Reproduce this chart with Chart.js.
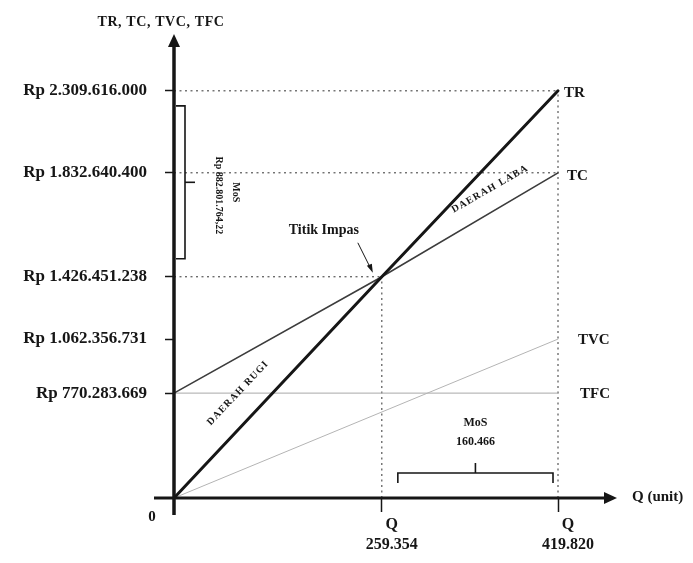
<!DOCTYPE html>
<html>
<head>
<meta charset="utf-8">
<script src="https://cdn.jsdelivr.net/npm/chart.js@4.4.1/dist/chart.umd.min.js"></script>
<style>
  html, body { margin: 0; padding: 0; background: #fff; }
</style>
</head>
<body>
<canvas id="bep" width="693" height="563"></canvas>
<script>
const qBreakEven = 259354;
const qMax = 419820;
const qPoints = [0, 259354, 419820];
const qEnds = [0, 419820];
const trValues = [0, 1426451238, 2309616000];
const tcValues = [770283669, 1426451238, 1832640400];
const tvcValues = [0, 1062356731];
const tfcValues = [770283669, 770283669];
const yTicks = [770283669, 1062356731, 1426451238, 1832640400, 2309616000];
const yLabels = ['Rp 770.283.669', 'Rp 1.062.356.731', 'Rp 1.426.451.238', 'Rp 1.832.640.400', 'Rp 2.309.616.000'];
const xTicks = [259354, 419820];
const xLabels = [['Q', '259.354'], ['Q', '419.820']];
const mosUnits = '160.466';
const mosRupiah = 'Rp 882.801.764,22';

const SERIF = "'Liberation Serif', 'Times New Roman', serif";
const INK = '#161616';

// the sketch is not drawn to scale, so each axis maps value -> position piecewise
const axisKnots = {
  x: [[0, 0], [259354, 0.466], [419820, 0.861], [480000, 1]],
  y: [[0, 0], [770283669, 0.229], [1062356731, 0.347], [1426451238, 0.483],
      [1832640400, 0.71], [2309616000, 0.889], [2600000000, 1]],
};

function interp(knots, v, from, to) {
  for (let i = 1; i < knots.length; i++) {
    const a = knots[i - 1], b = knots[i];
    if (v <= b[from] || i === knots.length - 1) {
      return a[to] + (v - a[from]) / (b[from] - a[from]) * (b[to] - a[to]);
    }
  }
  return 0;
}

class SketchScale extends Chart.LinearScale {
  getPixelForValue(value) {
    return this.getPixelForDecimal(interp(axisKnots[this.axis], value, 0, 1));
  }
  getValueForPixel(pixel) {
    return interp(axisKnots[this.axis], this.getDecimalForPixel(pixel), 1, 0);
  }
}
SketchScale.id = 'sketch';
SketchScale.defaults = {};
Chart.register(SketchScale);

const pts = (xs, ys) => xs.map((x, i) => ({ x, y: ys[i] }));
const trMax = trValues[trValues.length - 1];
const tcMax = tcValues[tcValues.length - 1];
const beValue = trValues[1];

function curve(data, color, width) {
  return { data, borderColor: color, borderWidth: width, pointRadius: 0, clip: false, borderCapStyle: 'round' };
}
function guide(data) {
  return { data, borderColor: '#333', borderWidth: 1, borderDash: [2, 3.5], pointRadius: 0, clip: false };
}

function text(ctx, str, x, y, size, align = 'center', rot = 0, spacing = 0) {
  ctx.save();
  ctx.translate(x, y);
  ctx.rotate(rot);
  ctx.font = `bold ${size}px ${SERIF}`;
  ctx.letterSpacing = spacing + 'px';
  ctx.textAlign = align;
  ctx.textBaseline = 'middle';
  ctx.fillText(str, 0, 0);
  ctx.restore();
}

function seg(ctx, x1, y1, x2, y2) {
  ctx.beginPath();
  ctx.moveTo(x1, y1);
  ctx.lineTo(x2, y2);
  ctx.stroke();
}

const sketchPlugin = {
  id: 'sketchNotes',
  afterDraw(chart) {
    const { ctx, chartArea, scales: { x, y } } = chart;
    const px = v => x.getPixelForValue(v);
    const py = v => y.getPixelForValue(v);
    const x0 = px(0), y0 = py(0);
    ctx.save();
    ctx.strokeStyle = INK;
    ctx.fillStyle = INK;

    // axes with arrows
    ctx.lineWidth = 3.5;
    seg(ctx, x0, y0 + 17, x0, chartArea.top + 6);
    ctx.beginPath();
    ctx.moveTo(x0, chartArea.top - 6);
    ctx.lineTo(x0 - 6, chartArea.top + 7);
    ctx.lineTo(x0 + 6, chartArea.top + 7);
    ctx.closePath();
    ctx.fill();
    ctx.lineWidth = 3;
    seg(ctx, x0 - 20, y0, chartArea.right - 14, y0);
    ctx.beginPath();
    ctx.moveTo(chartArea.right - 3, y0);
    ctx.lineTo(chartArea.right - 16, y0 - 6);
    ctx.lineTo(chartArea.right - 16, y0 + 6);
    ctx.closePath();
    ctx.fill();

    text(ctx, 'TR, TC, TVC, TFC', x0 - 13, 22, 14, 'center', 0, 0.6);
    text(ctx, 'Q (unit)', chartArea.right + 12, y0 - 1, 15, 'left');
    text(ctx, '0', x0 - 22, y0 + 19, 15);

    // line names at the right end
    const xe = px(qMax);
    text(ctx, 'TR', xe + 6, py(trMax) + 2, 15, 'left');
    text(ctx, 'TC', xe + 9, py(tcMax) + 3, 15, 'left');
    text(ctx, 'TVC', xe + 20, py(tvcValues[1]) + 1, 15, 'left');
    text(ctx, 'TFC', xe + 22, py(tfcValues[1]) + 1, 15, 'left');

    // break-even note
    const bx = px(qBreakEven), by = py(beValue);
    text(ctx, 'Titik Impas', bx - 58, by - 46, 14);
    ctx.lineWidth = 1;
    seg(ctx, bx - 24, by - 34, bx - 11, by - 8);
    ctx.beginPath();
    ctx.moveTo(bx - 9, by - 4);
    ctx.lineTo(bx - 15, by - 11);
    ctx.lineTo(bx - 10, by - 13);
    ctx.closePath();
    ctx.fill();

    // area names along the lines
    const aTR = Math.atan2(py(trMax) - y0, xe - x0);
    const aTC = Math.atan2(py(tcMax) - py(tcValues[0]), xe - x0);
    text(ctx, 'DAERAH RUGI', 238, 393, 10, 'center', aTR, 1.2);
    text(ctx, 'DAERAH LABA', 490, 189, 10, 'center', aTC, 1.2);

    // margin of safety in rupiah (left brace)
    ctx.lineWidth = 1.6;
    const bxL = x0 + 11, t1 = py(trMax) + 15, t2 = by - 18, tm = (t1 + t2) / 2;
    ctx.beginPath();
    ctx.moveTo(x0 + 2, t1);
    ctx.lineTo(bxL, t1);
    ctx.lineTo(bxL, t2);
    ctx.lineTo(x0 + 2, t2);
    ctx.stroke();
    seg(ctx, bxL, tm, bxL + 10, tm);
    text(ctx, mosRupiah, x0 + 45, tm + 13, 10, 'center', Math.PI / 2);
    text(ctx, 'MoS', x0 + 62, tm + 10, 10, 'center', Math.PI / 2);

    // margin of safety in units (bottom brace)
    const l1 = bx + 16, l2 = xe - 5, lm = (l1 + l2) / 2, ly = y0 - 25;
    ctx.beginPath();
    ctx.moveTo(l1, ly + 10);
    ctx.lineTo(l1, ly);
    ctx.lineTo(l2, ly);
    ctx.lineTo(l2, ly + 10);
    ctx.stroke();
    seg(ctx, lm, ly, lm, ly - 10);
    text(ctx, 'MoS', lm, ly - 50, 12);
    text(ctx, mosUnits, lm, ly - 31, 12);

    ctx.restore();
  },
};

new Chart(document.getElementById('bep'), {
  type: 'line',
  data: {
    datasets: [
      curve(pts(qPoints, trValues), INK, 3),
      curve(pts(qPoints, tcValues), '#3c3c3c', 1.6),
      curve(pts(qEnds, tvcValues), '#b4b4b4', 1),
      curve(pts(qEnds, tfcValues), '#a8a8a8', 1),
      guide(pts(qEnds, [trMax, trMax])),
      guide(pts(qEnds, [tcMax, tcMax])),
      guide(pts([0, qBreakEven], [beValue, beValue])),
      guide(pts([qBreakEven, qBreakEven], [0, beValue])),
      guide(pts([qMax, qMax], [0, trMax])),
    ],
  },
  options: {
    responsive: false,
    animation: false,
    layout: { padding: { top: 40, right: 73, left: 0, bottom: 0 } },
    plugins: { legend: { display: false }, tooltip: { enabled: false } },
    elements: { line: { tension: 0 } },
    scales: {
      x: {
        type: 'sketch',
        min: 0,
        max: 480000,
        afterBuildTicks: s => { s.ticks = xTicks.map(v => ({ value: v })); },
        afterFit: s => { s.height = 65; },
        border: { display: false },
        grid: { drawOnChartArea: false, tickLength: 14, tickColor: INK, tickWidth: 1.5 },
        ticks: {
          callback: (v, i) => xLabels[i],
          color: INK,
          font: { family: SERIF, size: 16, weight: 'bold', lineHeight: 1.3 },
          padding: 2,
          labelOffset: 10,
          maxRotation: 0,
          autoSkip: false,
        },
      },
      y: {
        type: 'sketch',
        min: 0,
        max: 2600000000,
        afterBuildTicks: s => { s.ticks = yTicks.map(v => ({ value: v })); },
        afterFit: s => { s.width = 174; },
        border: { display: false },
        grid: { drawOnChartArea: false, tickLength: 9, tickColor: INK, tickWidth: 1.5 },
        ticks: {
          callback: (v, i) => yLabels[i],
          color: INK,
          font: { family: SERIF, size: 17, weight: 'bold' },
          padding: 18,
          autoSkip: false,
        },
      },
    },
  },
  plugins: [sketchPlugin],
});
</script>
</body>
</html>
